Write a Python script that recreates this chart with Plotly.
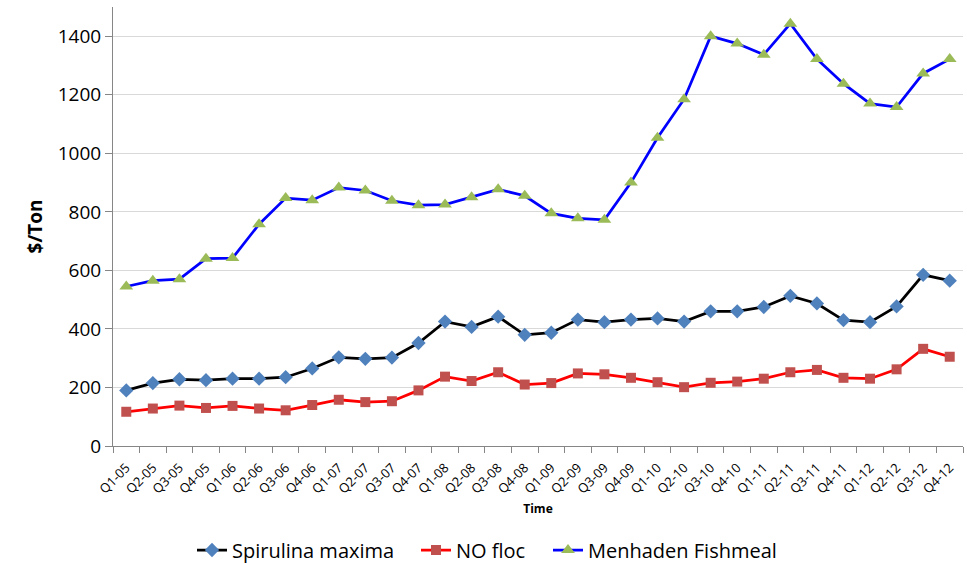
import plotly.graph_objects as go

quarters = ["Q1-05","Q2-05","Q3-05","Q4-05","Q1-06","Q2-06","Q3-06","Q4-06",
            "Q1-07","Q2-07","Q3-07","Q4-07","Q1-08","Q2-08","Q3-08","Q4-08",
            "Q1-09","Q2-09","Q3-09","Q4-09","Q1-10","Q2-10","Q3-10","Q4-10",
            "Q1-11","Q2-11","Q3-11","Q4-11","Q1-12","Q2-12","Q3-12","Q4-12"]

spirulina = [190, 215, 228, 225, 230, 230, 235, 265, 303, 298, 302, 352,
             425, 407, 442, 380, 387, 432, 423, 432, 436, 425, 460, 460,
             475, 513, 487, 430, 423, 477, 585, 565]
no_floc = [117, 128, 138, 130, 137, 128, 122, 140, 158, 150, 153, 190,
           237, 222, 252, 210, 215, 248, 245, 233, 218, 201, 216, 220,
           230, 252, 260, 233, 230, 262, 332, 305]
menhaden = [545, 565, 570, 640, 642, 758, 847, 840, 883, 873, 838, 823,
            825, 850, 877, 855, 795, 778, 773, 900, 1053, 1185, 1400, 1375,
            1337, 1443, 1322, 1238, 1170, 1158, 1273, 1322]

font_family = "Open Sans, Liberation Sans, sans-serif"
W, H = 967, 563

fig = go.Figure()
fig.add_trace(go.Scatter(x=quarters, y=spirulina, name="Spirulina maxima", mode="lines+markers",
                         line=dict(color="black", width=2.75), legend="legend",
                         marker=dict(symbol="diamond", color="#4f81bd", size=11)))
fig.add_trace(go.Scatter(x=quarters, y=no_floc, name="NO floc", mode="lines+markers",
                         line=dict(color="#ff0000", width=2.75), legend="legend2",
                         marker=dict(symbol="square", color="#c0504d", size=10)))
fig.add_trace(go.Scatter(x=quarters, y=menhaden, name="Menhaden Fishmeal", mode="lines+markers",
                         line=dict(color="#0000ff", width=2.75), legend="legend3",
                         marker=dict(symbol="triangle-up", color="#9bbb59", size=12)))

def leg(px):
    return dict(orientation="h", xref="container", yref="container",
                x=px / W, xanchor="left", y=1 - 550 / H, yanchor="middle",
                font=dict(size=20), bgcolor="rgba(0,0,0,0)")

fig.update_layout(
    width=W, height=H,
    margin=dict(l=113, r=4, t=7, b=117, autoexpand=False),
    plot_bgcolor="white", paper_bgcolor="white",
    font=dict(family=font_family, color="black"),
    showlegend=True,
    legend=leg(192), legend2=leg(416), legend3=leg(548),
    xaxis=dict(
        type="category", range=[-0.5, len(quarters) - 0.5],
        tickson="boundaries", ticks="outside", ticklen=6,
        tickcolor="#868686", showline=True, linecolor="#868686", linewidth=1,
        tickangle=-45, tickfont=dict(size=13), showgrid=False, automargin=False,
        ticklabelstandoff=8,
        title=dict(text="<b>Time</b>", font=dict(size=12), standoff=8),
    ),
    yaxis=dict(
        range=[0, 1500], dtick=200, ticks="outside", ticklen=7,
        tickcolor="#868686", showline=True, linecolor="#868686", linewidth=1,
        showgrid=True, gridcolor="#d9d9d9", gridwidth=1, automargin=False,
        tickfont=dict(size=19), zeroline=False,
        title=dict(text="<b>$/Ton</b>", font=dict(size=19), standoff=10),
    ),
)

fig.write_html("out.html", config=dict(displayModeBar=False),
               post_script="document.body.style.margin='0';document.body.style.overflow='hidden';")
